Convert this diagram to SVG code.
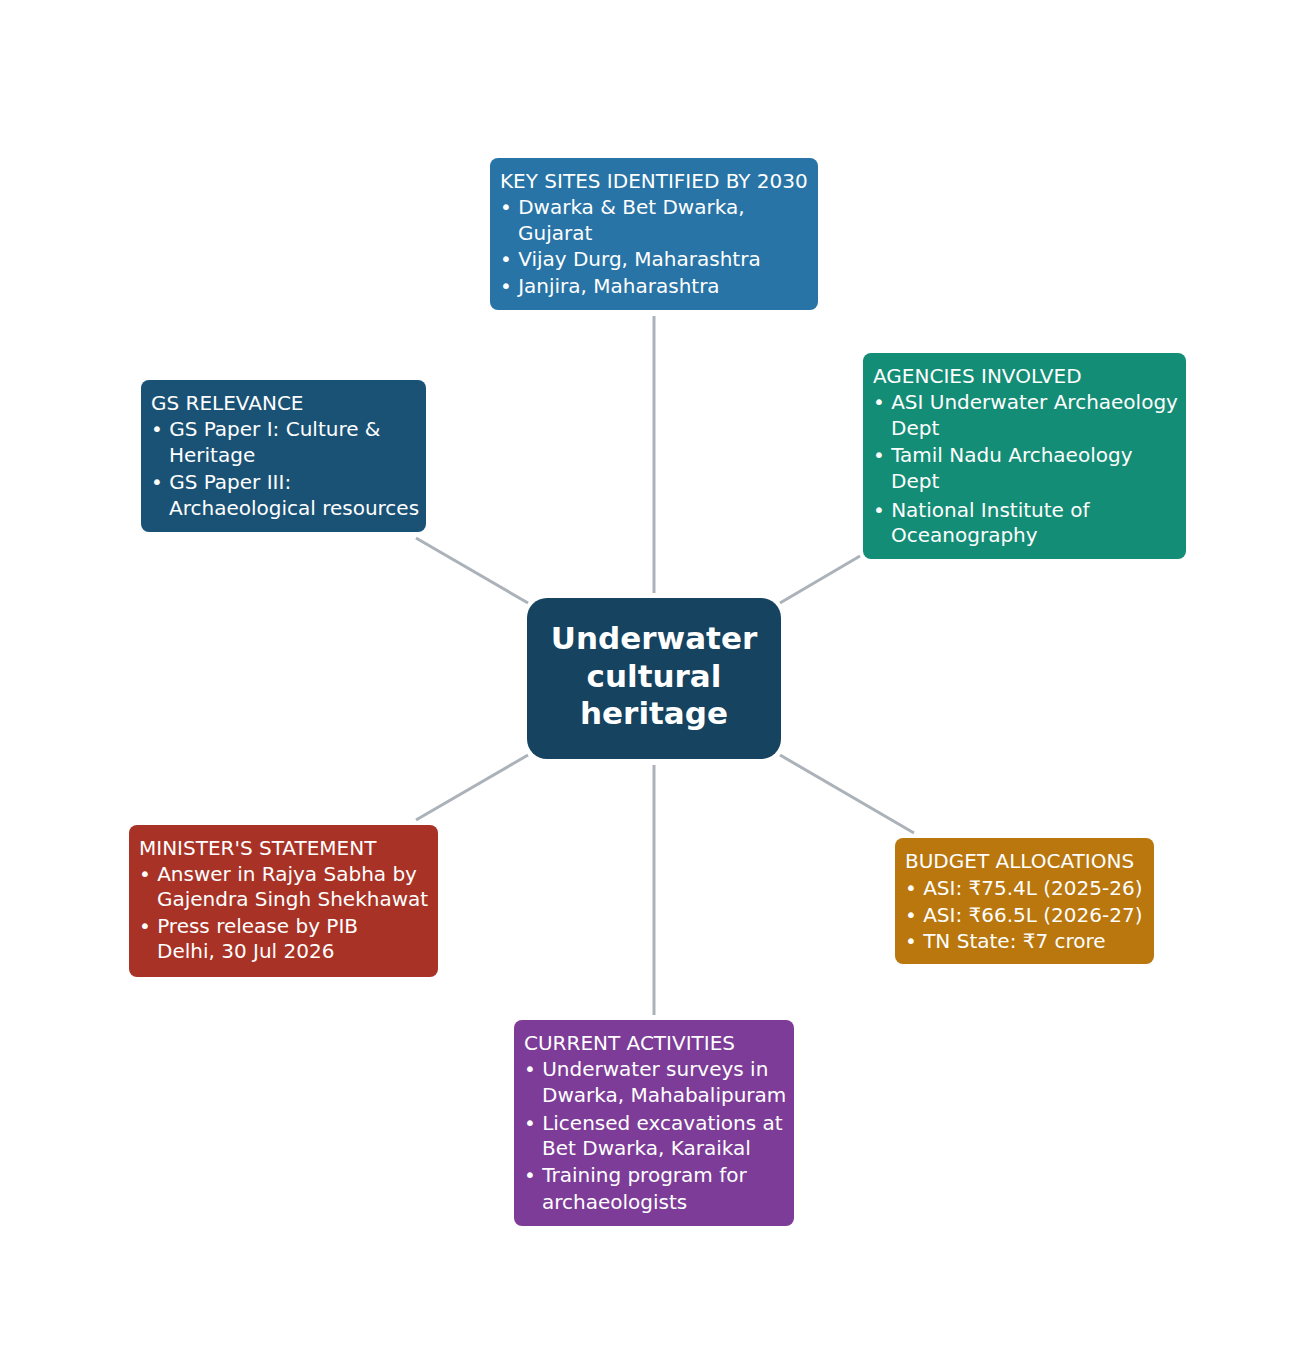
<svg xmlns="http://www.w3.org/2000/svg" width="1308" height="1358" viewBox="0 0 1308 1358">
<style>
.t{font-family:"DejaVu Sans",sans-serif;font-size:20px;fill:#ffffff}
.c{font-family:"DejaVu Sans",sans-serif;font-size:31px;font-weight:bold;fill:#ffffff;text-anchor:middle}
.e{stroke:#abb2b9;stroke-width:3;fill:none}
</style>
<rect width="1308" height="1358" fill="#ffffff"/>
<g id="connectors">
<line class="e" x1="654" y1="316" x2="654" y2="593"/>
<line class="e" x1="416" y1="538" x2="528" y2="603"/>
<line class="e" x1="860" y1="556" x2="780" y2="603"/>
<line class="e" x1="416" y1="820" x2="528" y2="755"/>
<line class="e" x1="914" y1="833" x2="780" y2="755"/>
<line class="e" x1="654" y1="765" x2="654" y2="1015"/>
</g>
<g id="center">
<rect x="527" y="598" width="254" height="161" rx="20" fill="#154360"/>
<text class="c" x="654" y="649">Underwater</text>
<text class="c" x="654" y="687">cultural</text>
<text class="c" x="654" y="724">heritage</text>
</g>
<g id="key-sites">
<rect x="490" y="158" width="328" height="152" rx="8" fill="#2874a6"/>
<text class="t" x="500" y="188">KEY SITES IDENTIFIED BY 2030</text>
<text class="t" x="500" y="214">• Dwarka &amp; Bet Dwarka,</text>
<text class="t" x="518" y="240">Gujarat</text>
<text class="t" x="500" y="266">• Vijay Durg, Maharashtra</text>
<text class="t" x="500" y="293">• Janjira, Maharashtra</text>
</g>
<g id="agencies">
<rect x="863" y="353" width="323" height="206" rx="8" fill="#138d75"/>
<text class="t" x="873" y="383">AGENCIES INVOLVED</text>
<text class="t" x="873" y="409">• ASI Underwater Archaeology</text>
<text class="t" x="891" y="435">Dept</text>
<text class="t" x="873" y="462">• Tamil Nadu Archaeology</text>
<text class="t" x="891" y="488">Dept</text>
<text class="t" x="873" y="517">• National Institute of</text>
<text class="t" x="891" y="542">Oceanography</text>
</g>
<g id="gs-relevance">
<rect x="141" y="380" width="285" height="152" rx="8" fill="#1a5276"/>
<text class="t" x="151" y="410">GS RELEVANCE</text>
<text class="t" x="151" y="436">• GS Paper I: Culture &amp;</text>
<text class="t" x="169" y="462">Heritage</text>
<text class="t" x="151" y="489">• GS Paper III:</text>
<text class="t" x="169" y="515">Archaeological resources</text>
</g>
<g id="minister">
<rect x="129" y="825" width="309" height="152" rx="8" fill="#a93226"/>
<text class="t" x="139" y="855">MINISTER'S STATEMENT</text>
<text class="t" x="139" y="881">• Answer in Rajya Sabha by</text>
<text class="t" x="157" y="906">Gajendra Singh Shekhawat</text>
<text class="t" x="139" y="933">• Press release by PIB</text>
<text class="t" x="157" y="958">Delhi, 30 Jul 2026</text>
</g>
<g id="budget">
<rect x="895" y="838" width="259" height="126" rx="8" fill="#b9770e"/>
<text class="t" x="905" y="868">BUDGET ALLOCATIONS</text>
<text class="t" x="905" y="895">• ASI: ₹75.4L (2025-26)</text>
<text class="t" x="905" y="922">• ASI: ₹66.5L (2026-27)</text>
<text class="t" x="905" y="948">• TN State: ₹7 crore</text>
</g>
<g id="current">
<rect x="514" y="1020" width="280" height="206" rx="8" fill="#7d3c98"/>
<text class="t" x="524" y="1050">CURRENT ACTIVITIES</text>
<text class="t" x="524" y="1076">• Underwater surveys in</text>
<text class="t" x="542" y="1102">Dwarka, Mahabalipuram</text>
<text class="t" x="524" y="1130">• Licensed excavations at</text>
<text class="t" x="542" y="1155">Bet Dwarka, Karaikal</text>
<text class="t" x="524" y="1182">• Training program for</text>
<text class="t" x="542" y="1209">archaeologists</text>
</g>
</svg>
